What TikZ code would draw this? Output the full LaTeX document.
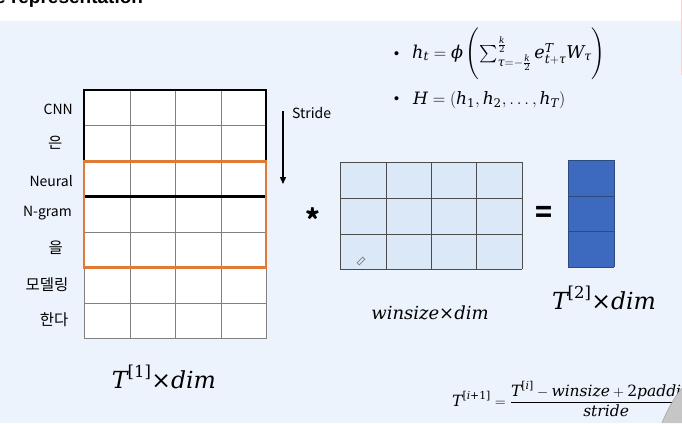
\documentclass[tikz,border=0pt]{standalone}
\usepackage{fontspec}
\usepackage{amsmath}
\usetikzlibrary{arrows.meta}
\newfontfamily\krfont{Noto Sans CJK KR}
\newfontfamily\titlefont{Liberation Sans}
\newfontfamily\mfont{DejaVu Serif}
\newcommand{\mi}[1]{\text{\mfont\itshape #1}}
\newcommand{\mr}[1]{\text{\mfont #1}}
\newcommand{\mtimes}{\mr{×}}
\definecolor{bgblue}{HTML}{EDF3FC}
\definecolor{cellblue}{HTML}{DAE8F7}
\definecolor{darkcell}{HTML}{3D69BE}
\definecolor{darkedge}{HTML}{2B4A80}
\definecolor{orng}{HTML}{E07A35}
\definecolor{gridgray}{HTML}{808080}
\tikzset{
  gridline/.style={draw=gridgray, line width=0.8pt},
  thickbox/.style={draw=black, line width=2.4pt},
  orangebox/.style={draw=orng, line width=2.6pt},
  wordlabel/.style={anchor=east, inner sep=0pt, font=\krfont\fontsize{14}{16}\selectfont},
  krlabel/.style={anchor=east, inner sep=0pt, font=\krfont\fontsize{15.5}{17}\selectfont},
  mathlabel/.style={inner sep=0pt},
}
\begin{document}
\begin{tikzpicture}[x=1pt,y=-1pt]
\useasboundingbox (0,0) rectangle (682,423);
\clip (0,0) rectangle (682,423);
% background
\fill[white] (0,0) rectangle (682,423);
\fill[bgblue] (0,21) rectangle (682,423);
\draw[pink!70, line width=1pt] (681,0) -- (681,75);
% partial title
\node[anchor=base west, inner sep=0pt, font=\titlefont\bfseries\fontsize{19}{21}\selectfont] (title) at (-5,3) {e representation};

% left grid (T[1] x dim)
\fill[white] (84,90) rectangle (266,338.5);
\foreach \xx in {84,130,175.5,221,266}
  \draw[gridline] (\xx,90) -- (\xx,338.5);
\foreach \yy in {90,125.5,161,196.5,232,267.5,303,338.5}
  \draw[gridline] (84,\yy) -- (266,\yy);
\draw[thickbox] (84,196.5) -- (84,90) -- (266,90) -- (266,196.5);
\draw[thickbox, line width=2.6pt] (84,196.5) -- (266,196.5);
\draw[orangebox] (84,161.5) rectangle (266,267.5);

% word labels
\node[wordlabel] (w1) at (73,109) {CNN};
\node[krlabel] (w2) at (62.5,143) {은};
\node[wordlabel] (w3) at (73,181) {Neural};
\node[wordlabel] (w4) at (72,213) {N-gram};
\node[krlabel] (w5) at (63,248) {을};
\node[krlabel] (w6) at (68.5,285) {모델링};
\node[krlabel] (w7) at (68.5,320) {한다};

% stride arrow
\coordinate (s1) at (283,111);
\coordinate (s2) at (283,184);
\draw[line width=1.4pt, -{Triangle[length=7pt,width=6pt]}] (s1) -- (s2);
\node[anchor=west, inner sep=0pt, font=\krfont\fontsize{14}{16}\selectfont] (stride) at (292,113) {Stride};

% star operator
\node[inner sep=0pt, font=\krfont\bfseries\fontsize{28}{30}\selectfont] (star) at (313,219) {*};

% filter grid
\fill[cellblue] (340,162) rectangle (522,269);
\foreach \xx in {340,386,431,476,522}
  \draw[draw=black!70, line width=0.8pt] (\xx,162) -- (\xx,269);
\foreach \yy in {162,198,234,269}
  \draw[draw=black!70, line width=0.8pt] (340,\yy) -- (522,\yy);
\draw[gray, line width=0.7pt, rotate around={45:(361,261)}] (357,259.5) rectangle (365,262.5);

% equals
\node[inner sep=0pt, font=\krfont\bfseries\fontsize{28}{30}\selectfont] (eq) at (544,214) {=};

% output column
\fill[darkcell] (568,160) rectangle (614,267);
\foreach \yy in {160,196,231,267}
  \draw[darkedge, line width=0.9pt] (568,\yy) -- (614,\yy);
\draw[darkedge, line width=0.9pt] (568,160) -- (568,267);
\draw[darkedge, line width=0.9pt] (614,160) -- (614,267);

% dimension labels
\node[mathlabel, font=\fontsize{23.5}{27}\selectfont] (d1) at (164,377) {$\mi{T}^{\mr{[1]}}\mtimes\mi{dim}$};
\node[mathlabel, font=\fontsize{18}{21}\selectfont] (d2) at (430,313) {$\mi{winsize}\mtimes\mi{dim}$};
\node[mathlabel, font=\fontsize{23.5}{27}\selectfont] (d3) at (604,298) {$\mi{T}^{\mr{[2]}}\mtimes\mi{dim}$};

% formulas top right
\node[anchor=west, inner sep=0pt, font=\fontsize{18}{20}\selectfont] (b1) at (390,55) {\textbullet};
\node[anchor=west, inner sep=0pt, font=\fontsize{17.6}{21}\selectfont] (f1) at (412,54)
  {$\mi{h}_{\mi{t}}=\mi{ϕ}\left(\vrule height 28pt depth 19pt width 0pt\textstyle\sum_{\mi{τ}=-\frac{\mi{k}}{\mr{2}}}^{\frac{\mi{k}}{\mr{2}}} \mi{e}_{\mi{t}+\mi{τ}}^{\mi{T}} \mi{W}_{\mi{τ}}\right)$};
\node[anchor=west, inner sep=0pt, font=\fontsize{18}{20}\selectfont] (b2) at (390,100) {\textbullet};
\node[anchor=west, inner sep=0pt, font=\fontsize{17}{20}\selectfont] (f2) at (413,100)
  {$\mi{H}=(\mi{h}_{\mr{1}},\mi{h}_{\mr{2}},\ldots,\mi{h}_{\mi{T}})$};

% bottom formula
\node[anchor=west, inner sep=0pt, font=\fontsize{15.5}{18}\selectfont] (f3) at (452,399)
  {$\mi{T}^{\mr{[}\mi{i}\mr{+1]}}=\dfrac{\mi{T}^{\mr{[}\mi{i}\mr{]}}-\mi{winsize}+\mr{2}\mi{padding}}{\mi{stride}}$};

% corner image fragment
\fill[gray!45] (662,423) .. controls (667,410) and (674,398) .. (682,388) -- (682,423) -- cycle;
\draw[gray!70, line width=0.6pt] (662,423) .. controls (667,410) and (674,398) .. (682,388);
\end{tikzpicture}
\end{document}
